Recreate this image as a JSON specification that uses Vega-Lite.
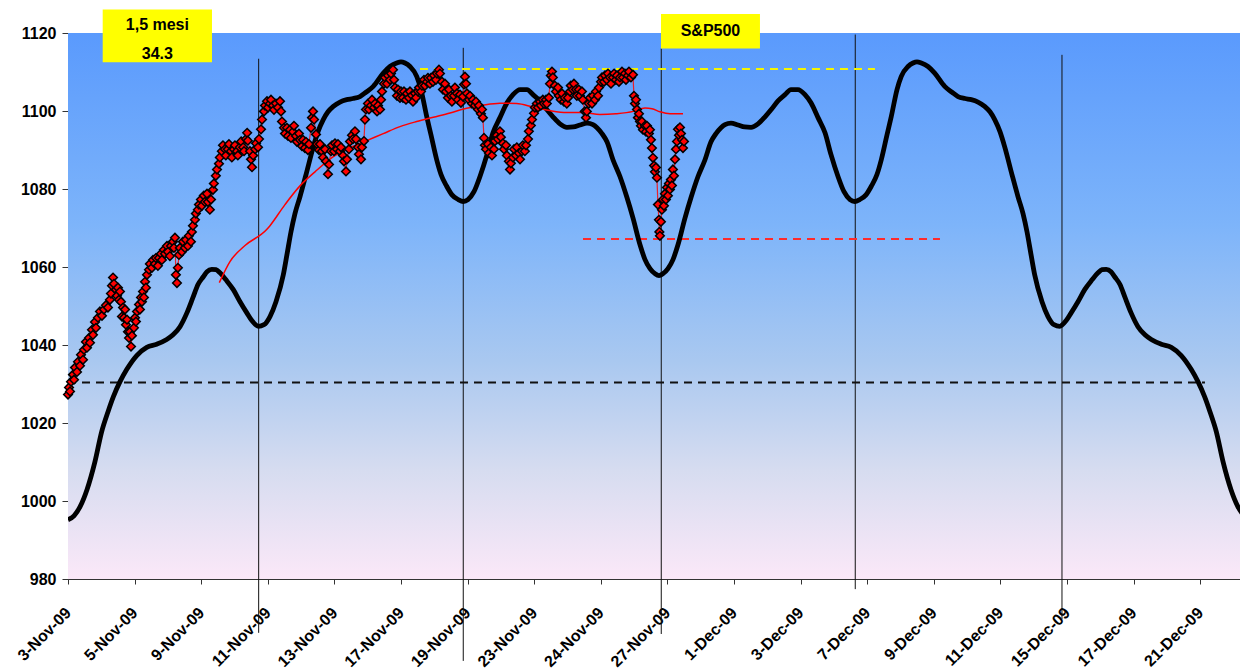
{
"$schema":"https://vega.github.io/schema/vega-lite/v6.json",
"width":1172,"height":546,
"autosize":"none",
"padding":{"left":68,"top":33,"right":0,"bottom":92},
"background":"#ffffff",
"config":{"view":{"stroke":"#a6a6a6","strokeWidth":1},
 "axis":{"labelFont":"Liberation Sans","labelFontWeight":"bold","labelFontSize":16,"labelColor":"#000000","domainColor":"#333333","tickColor":"#333333","grid":false,"title":null}},
"datasets":{
"cyc":[{"t":0,"v":995.2},{"t":0.09,"v":996.2},{"t":0.18,"v":998.5},{"t":0.285,"v":1002.9},{"t":0.405,"v":1010.1},{"t":0.506,"v":1017.8},{"t":0.601,"v":1022.9},{"t":0.68,"v":1026.7},{"t":0.781,"v":1030.6},{"t":0.881,"v":1033.7},{"t":1.032,"v":1037.3},{"t":1.182,"v":1039.4},{"t":1.332,"v":1040.2},{"t":1.482,"v":1041.4},{"t":1.577,"v":1042.6},{"t":1.682,"v":1044.7},{"t":1.787,"v":1048.3},{"t":1.881,"v":1052.4},{"t":1.952,"v":1055.5},{"t":2.032,"v":1057.5},{"t":2.087,"v":1058.8},{"t":2.158,"v":1059.4},{"t":2.222,"v":1059.3},{"t":2.282,"v":1058.5},{"t":2.372,"v":1056.7},{"t":2.482,"v":1054.2},{"t":2.583,"v":1051.1},{"t":2.683,"v":1048.3},{"t":2.763,"v":1046.2},{"t":2.857,"v":1044.8},{"t":2.943,"v":1045.2},{"t":3.033,"v":1047.3},{"t":3.123,"v":1051.1},{"t":3.233,"v":1058.0},{"t":3.288,"v":1063.2},{"t":3.348,"v":1069.0},{"t":3.408,"v":1073.7},{"t":3.483,"v":1078.0},{"t":3.574,"v":1083.7},{"t":3.683,"v":1090.8},{"t":3.754,"v":1094.7},{"t":3.833,"v":1097.8},{"t":3.904,"v":1099.8},{"t":3.984,"v":1101.2},{"t":4.084,"v":1102.3},{"t":4.185,"v":1102.9},{"t":4.279,"v":1103.2},{"t":4.384,"v":1103.7},{"t":4.474,"v":1104.8},{"t":4.584,"v":1106.3},{"t":4.734,"v":1109.7},{"t":4.835,"v":1111.4},{"t":4.935,"v":1112.3},{"t":5.0,"v":1112.6},{"t":5.06,"v":1112.3},{"t":5.135,"v":1111.4},{"t":5.236,"v":1108.9},{"t":5.3,"v":1105.5},{"t":5.386,"v":1098.6},{"t":5.45,"v":1093.9},{"t":5.536,"v":1087.5},{"t":5.601,"v":1083.7},{"t":5.686,"v":1080.7},{"t":5.766,"v":1078.5},{"t":5.86,"v":1077.3},{"t":5.935,"v":1076.8},{"t":6.006,"v":1077.3},{"t":6.096,"v":1079.3},{"t":6.186,"v":1083.2},{"t":6.291,"v":1088.8},{"t":6.381,"v":1094.4},{"t":6.486,"v":1098.3},{"t":6.592,"v":1102.1},{"t":6.682,"v":1104.2},{"t":6.787,"v":1105.5},{"t":6.892,"v":1105.5},{"t":6.982,"v":1104.2},{"t":7.087,"v":1102.6},{"t":7.192,"v":1100.3},{"t":7.282,"v":1098.5},{"t":7.387,"v":1096.7},{"t":7.492,"v":1095.8},{"t":7.587,"v":1095.9},{"t":7.688,"v":1096.4},{"t":7.793,"v":1096.9},{"t":7.883,"v":1096.5},{"t":7.943,"v":1095.7},{"t":8.018,"v":1094.2},{"t":8.093,"v":1092.1},{"t":8.183,"v":1087.5},{"t":8.288,"v":1083.2},{"t":8.393,"v":1077.8},{"t":8.483,"v":1072.6},{"t":8.589,"v":1065.7},{"t":8.664,"v":1061.9},{"t":8.739,"v":1059.6},{"t":8.814,"v":1058.3},{"t":8.874,"v":1057.8},
{"t":8.934,"v":1058.3},{"t":9.009,"v":1059.6},{"t":9.084,"v":1061.9},{"t":9.159,"v":1065.7},{"t":9.265,"v":1072.6},{"t":9.355,"v":1077.8},{"t":9.46,"v":1083.2},{"t":9.565,"v":1087.5},{"t":9.655,"v":1092.1},{"t":9.73,"v":1094.2},{"t":9.805,"v":1095.7},{"t":9.865,"v":1096.5},{"t":9.955,"v":1096.9},{"t":10.06,"v":1096.4},{"t":10.161,"v":1095.9},{"t":10.256,"v":1095.8},{"t":10.361,"v":1096.7},{"t":10.466,"v":1098.5},{"t":10.556,"v":1100.3},{"t":10.661,"v":1102.6},{"t":10.766,"v":1104.2},{"t":10.856,"v":1105.5},{"t":10.961,"v":1105.5},{"t":11.066,"v":1104.2},{"t":11.156,"v":1102.1},{"t":11.262,"v":1098.3},{"t":11.367,"v":1094.4},{"t":11.457,"v":1088.8},{"t":11.562,"v":1083.2},{"t":11.652,"v":1079.3},{"t":11.742,"v":1077.3},{"t":11.813,"v":1076.8},{"t":11.888,"v":1077.3},{"t":11.982,"v":1078.5},{"t":12.062,"v":1080.7},{"t":12.147,"v":1083.7},{"t":12.212,"v":1087.5},{"t":12.298,"v":1093.9},{"t":12.362,"v":1098.6},{"t":12.448,"v":1105.5},{"t":12.512,"v":1108.9},{"t":12.613,"v":1111.4},{"t":12.688,"v":1112.3},{"t":12.748,"v":1112.6},{"t":12.813,"v":1112.3},{"t":12.913,"v":1111.4},{"t":13.014,"v":1109.7},{"t":13.164,"v":1106.3},{"t":13.274,"v":1104.8},{"t":13.364,"v":1103.7},{"t":13.469,"v":1103.2},{"t":13.563,"v":1102.9},{"t":13.664,"v":1102.3},{"t":13.764,"v":1101.2},{"t":13.844,"v":1099.8},{"t":13.915,"v":1097.8},{"t":13.994,"v":1094.7},{"t":14.065,"v":1090.8},{"t":14.174,"v":1083.7},{"t":14.265,"v":1078.0},{"t":14.34,"v":1073.7},{"t":14.4,"v":1069.0},{"t":14.46,"v":1063.2},{"t":14.515,"v":1058.0},{"t":14.625,"v":1051.1},{"t":14.715,"v":1047.3},{"t":14.805,"v":1045.2},{"t":14.891,"v":1044.8},{"t":14.985,"v":1046.2},{"t":15.065,"v":1048.3},{"t":15.165,"v":1051.1},{"t":15.266,"v":1054.2},{"t":15.376,"v":1056.7},{"t":15.466,"v":1058.5},{"t":15.526,"v":1059.3},{"t":15.59,"v":1059.4},{"t":15.661,"v":1058.8},{"t":15.716,"v":1057.5},{"t":15.796,"v":1055.5},{"t":15.867,"v":1052.4},{"t":15.961,"v":1048.3},{"t":16.066,"v":1044.7},{"t":16.171,"v":1042.6},{"t":16.266,"v":1041.4},{"t":16.416,"v":1040.2},{"t":16.566,"v":1039.4},{"t":16.716,"v":1037.3},{"t":16.867,"v":1033.7},{"t":16.967,"v":1030.6},{"t":17.068,"v":1026.7},{"t":17.147,"v":1022.9},{"t":17.242,"v":1017.8},{"t":17.343,"v":1010.1},{"t":17.463,"v":1002.9},{"t":17.568,"v":998.5},{"t":17.658,"v":996.2}],
"ma":[{"t":2.272,"v":1056.0},{"t":2.432,"v":1061.4},{"t":2.658,"v":1065.5},{"t":2.983,"v":1069.6},{"t":3.033,"v":1070.6},{"t":3.258,"v":1076.0},{"t":3.483,"v":1080.8},{"t":3.709,"v":1084.4},{"t":3.984,"v":1088.3},{"t":4.234,"v":1090.6},{"t":4.485,"v":1092.4},{"t":4.734,"v":1094.2},{"t":4.985,"v":1096.0},{"t":5.236,"v":1097.3},{"t":5.485,"v":1098.4},{"t":5.736,"v":1099.5},{"t":5.986,"v":1100.7},{"t":6.231,"v":1101.5},{"t":6.486,"v":1102.0},{"t":6.737,"v":1101.9},{"t":6.987,"v":1101.0},{"t":7.237,"v":1100.1},{"t":7.488,"v":1099.6},{"t":7.733,"v":1099.6},{"t":7.988,"v":1099.1},{"t":8.228,"v":1099.3},{"t":8.488,"v":1099.9},{"t":8.664,"v":1100.8},{"t":8.769,"v":1100.6},{"t":8.889,"v":1099.8},{"t":9.039,"v":1099.3},{"t":9.234,"v":1099.3}],
"sp":[{"t":0,"v":1027.3},{"t":0.015,"v":1029.1},{"t":0.03,"v":1028.1},{"t":0.045,"v":1030.6},{"t":0.075,"v":1032.4},{"t":0.09,"v":1031.1},{"t":0.105,"v":1034.2},{"t":0.135,"v":1033.1},{"t":0.15,"v":1035.7},{"t":0.18,"v":1034.7},{"t":0.195,"v":1037.5},{"t":0.225,"v":1036.2},{"t":0.24,"v":1038.8},{"t":0.27,"v":1040.8},{"t":0.285,"v":1039.3},{"t":0.315,"v":1041.8},{"t":0.33,"v":1040.6},{"t":0.36,"v":1043.9},{"t":0.375,"v":1042.6},{"t":0.405,"v":1045.9},{"t":0.42,"v":1044.4},{"t":0.45,"v":1047},{"t":0.48,"v":1048.6},{"t":0.51,"v":1047.5},{"t":0.54,"v":1049.1},{"t":0.57,"v":1050.2},{"t":0.6,"v":1049.6},{"t":0.63,"v":1051.6},{"t":0.645,"v":1053.2},{"t":0.66,"v":1055.2},{"t":0.676,"v":1057.3},{"t":0.69,"v":1055.7},{"t":0.72,"v":1054.2},{"t":0.735,"v":1052.6},{"t":0.75,"v":1054.7},{"t":0.766,"v":1051.6},{"t":0.78,"v":1053.7},{"t":0.795,"v":1051.1},{"t":0.81,"v":1047.3},{"t":0.826,"v":1049.6},{"t":0.84,"v":1047},{"t":0.856,"v":1049.1},{"t":0.87,"v":1045.2},{"t":0.886,"v":1046.5},{"t":0.9,"v":1043.4},{"t":0.916,"v":1041.8},{"t":0.93,"v":1043.4},{"t":0.946,"v":1039.6},{"t":0.96,"v":1042.4},{"t":0.99,"v":1044.4},{"t":1.006,"v":1047},{"t":1.02,"v":1046},{"t":1.036,"v":1048.6},{"t":1.066,"v":1050.4},{"t":1.08,"v":1049.1},{"t":1.096,"v":1052.2},{"t":1.11,"v":1051.1},{"t":1.126,"v":1053.7},{"t":1.14,"v":1052.2},{"t":1.156,"v":1056.2},{"t":1.17,"v":1054.7},{"t":1.186,"v":1058},{"t":1.216,"v":1059.3},{"t":1.23,"v":1060.8},{"t":1.26,"v":1059.8},{"t":1.276,"v":1061.8},{"t":1.306,"v":1060.8},{"t":1.32,"v":1062.3},{"t":1.35,"v":1060.3},{"t":1.366,"v":1062.3},{"t":1.396,"v":1063.4},{"t":1.41,"v":1061.8},{"t":1.44,"v":1064.4},{"t":1.456,"v":1063.4},{"t":1.486,"v":1065.4},{"t":1.5,"v":1063.9},{"t":1.53,"v":1062.8},{"t":1.546,"v":1065.4},{"t":1.576,"v":1066.5},{"t":1.59,"v":1064.9},{"t":1.606,"v":1067.5},{"t":1.62,"v":1058},{"t":1.636,"v":1055.9},{"t":1.65,"v":1059.8},{"t":1.666,"v":1063.1},{"t":1.68,"v":1064.9},{"t":1.71,"v":1063.9},{"t":1.726,"v":1066.5},{"t":1.756,"v":1064.9},{"t":1.77,"v":1067},{"t":1.8,"v":1065.4},{"t":1.816,"v":1068},{"t":1.846,"v":1066.5},{"t":1.86,"v":1069},{"t":1.876,"v":1070.6},{"t":1.906,"v":1072.1},{"t":1.92,"v":1073.7},{"t":1.95,"v":1074.7},{"t":1.966,"v":1076},{"t":1.996,"v":1077.3},{"t":2.01,"v":1075.7},{"t":2.04,"v":1078.3},{"t":2.055,"v":1076.7},{"t":2.087,"v":1078.8},{"t":2.1,"v":1076.7},{"t":2.13,"v":1074.7},{"t":2.147,"v":1077.3},{"t":2.177,"v":1079.8},{"t":2.19,"v":1081.4},{"t":2.22,"v":1083.4},{"t":2.237,"v":1085},{"t":2.267,"v":1086.5},{"t":2.28,"v":1088.1},{"t":2.31,"v":1089.7},{"t":2.327,"v":1091.2},{"t":2.357,"v":1090.2},{"t":2.37,"v":1088.6},{"t":2.4,"v":1090.2},{"t":2.417,"v":1091.5},{"t":2.447,"v":1089.7},{"t":2.46,"v":1088.1},{"t":2.49,"v":1090.2},{"t":2.507,"v":1091.2},{"t":2.537,"v":1089.7},{"t":2.55,"v":1088.6},{"t":2.58,"v":1090.7},{"t":2.6,"v":1092.2},{"t":2.63,"v":1090.7},{"t":2.643,"v":1089.7},{"t":2.673,"v":1092.8},{"t":2.69,"v":1094.4},{"t":2.7,"v":1092.4},{"t":2.733,"v":1089.7},{"t":2.748,"v":1087.6},{"t":2.763,"v":1085.6},{"t":2.78,"v":1088.6},{"t":2.81,"v":1090.2},{"t":2.823,"v":1091.7},{"t":2.853,"v":1090.7},{"t":2.868,"v":1092.8},{"t":2.898,"v":1095.3},{"t":2.913,"v":1097.8},{"t":2.943,"v":1099.9},{"t":2.958,"v":1101.4},{"t":2.988,"v":1102.5},{"t":3.003,"v":1100.9},{"t":3.033,"v":1101.9},{"t":3.048,"v":1102.9},{"t":3.078,"v":1101.4},{"t":3.093,"v":1100.3},{"t":3.123,"v":1101.9},{"t":3.153,"v":1100.9},{"t":3.183,"v":1102.5},{"t":3.198,"v":1099.9},{"t":3.213,"v":1097.3},{"t":3.243,"v":1095.7},{"t":3.258,"v":1094.2},{"t":3.288,"v":1095.7},{"t":3.303,"v":1093.6},{"t":3.333,"v":1095.2},{"t":3.348,"v":1093.1},{"t":3.378,"v":1094.7},{"t":3.393,"v":1096.2},{"t":3.423,"v":1093.6},{"t":3.438,"v":1092.1},{"t":3.468,"v":1094.2},{"t":3.483,"v":1092.6},{"t":3.513,"v":1091},{"t":3.528,"v":1092.6},{"t":3.558,"v":1090.5},{"t":3.573,"v":1092.1},{"t":3.603,"v":1090},{"t":3.618,"v":1091.5},{"t":3.649,"v":1095.7},{"t":3.664,"v":1098.3},{"t":3.679,"v":1099.9},{"t":3.694,"v":1097.8},{"t":3.724,"v":1094},{"t":3.739,"v":1091.5},{"t":3.769,"v":1090},{"t":3.784,"v":1091.5},{"t":3.814,"v":1089.7},{"t":3.829,"v":1088.1},{"t":3.859,"v":1090.2},{"t":3.874,"v":1087.1},{"t":3.904,"v":1083.8},{"t":3.919,"v":1086.3},{"t":3.949,"v":1089.7},{"t":3.964,"v":1091.2},{"t":3.994,"v":1089.7},{"t":4.009,"v":1091.7},{"t":4.039,"v":1090.2},{"t":4.054,"v":1091.5},{"t":4.084,"v":1089.7},{"t":4.099,"v":1090.7},{"t":4.129,"v":1088.6},{"t":4.144,"v":1087.1},{"t":4.174,"v":1084.5},{"t":4.189,"v":1087.6},{"t":4.219,"v":1090.2},{"t":4.234,"v":1092.2},{"t":4.264,"v":1093.8},{"t":4.279,"v":1092.8},{"t":4.309,"v":1094.8},{"t":4.324,"v":1092.8},{"t":4.354,"v":1090.7},{"t":4.369,"v":1088.9},{"t":4.399,"v":1087.6},{"t":4.414,"v":1090.7},{"t":4.444,"v":1092.3},{"t":4.459,"v":1097.8},{"t":4.474,"v":1100.4},{"t":4.504,"v":1101.9},{"t":4.519,"v":1100.4},{"t":4.549,"v":1101.4},{"t":4.565,"v":1102.9},{"t":4.595,"v":1100.9},{"t":4.61,"v":1101.9},{"t":4.64,"v":1099.9},{"t":4.655,"v":1101.4},{"t":4.685,"v":1100.4},{"t":4.7,"v":1102.9},{"t":4.715,"v":1105},{"t":4.745,"v":1107},{"t":4.76,"v":1108.6},{"t":4.79,"v":1107},{"t":4.805,"v":1109.1},{"t":4.835,"v":1108},{"t":4.85,"v":1109.6},{"t":4.88,"v":1110.6},{"t":4.895,"v":1108},{"t":4.91,"v":1106},{"t":4.94,"v":1103.9},{"t":4.955,"v":1105.5},{"t":4.985,"v":1103.4},{"t":5,"v":1105},{"t":5.03,"v":1103.4},{"t":5.045,"v":1105},{"t":5.075,"v":1102.9},{"t":5.09,"v":1104.5},{"t":5.12,"v":1103.4},{"t":5.135,"v":1105},{"t":5.165,"v":1104},{"t":5.18,"v":1102.4},{"t":5.21,"v":1104.5},{"t":5.225,"v":1103.4},{"t":5.255,"v":1105},{"t":5.27,"v":1106},{"t":5.3,"v":1105},{"t":5.315,"v":1106.5},{"t":5.345,"v":1108},{"t":5.36,"v":1106.5},{"t":5.39,"v":1107.5},{"t":5.405,"v":1108.5},{"t":5.435,"v":1107},{"t":5.45,"v":1108.5},{"t":5.48,"v":1107.5},{"t":5.495,"v":1109.1},{"t":5.525,"v":1108},{"t":5.54,"v":1109.6},{"t":5.57,"v":1110.6},{"t":5.585,"v":1109.6},{"t":5.615,"v":1107.5},{"t":5.63,"v":1105.5},{"t":5.66,"v":1107},{"t":5.675,"v":1105},{"t":5.705,"v":1103.4},{"t":5.72,"v":1105.5},{"t":5.75,"v":1103.9},{"t":5.765,"v":1102.4},{"t":5.795,"v":1103.9},{"t":5.81,"v":1106},{"t":5.84,"v":1104.5},{"t":5.855,"v":1102.9},{"t":5.886,"v":1104.2},{"t":5.9,"v":1102.1},{"t":5.93,"v":1103.7},{"t":5.946,"v":1106.8},{"t":5.96,"v":1108.8},{"t":5.976,"v":1107},{"t":5.99,"v":1104.5},{"t":6.02,"v":1102.9},{"t":6.036,"v":1103.9},{"t":6.066,"v":1101.9},{"t":6.08,"v":1102.9},{"t":6.11,"v":1101.4},{"t":6.126,"v":1102.4},{"t":6.156,"v":1100.4},{"t":6.17,"v":1101.4},{"t":6.2,"v":1099.3},{"t":6.216,"v":1100.4},{"t":6.23,"v":1098.3},{"t":6.246,"v":1093.1},{"t":6.26,"v":1091.2},{"t":6.276,"v":1090.2},{"t":6.306,"v":1091.5},{"t":6.32,"v":1089.2},{"t":6.35,"v":1090.7},{"t":6.366,"v":1088.6},{"t":6.396,"v":1090.2},{"t":6.41,"v":1092.3},{"t":6.44,"v":1093.8},{"t":6.456,"v":1092.8},{"t":6.486,"v":1094.8},{"t":6.5,"v":1093.3},{"t":6.53,"v":1091.7},{"t":6.546,"v":1090.2},{"t":6.576,"v":1091.2},{"t":6.59,"v":1088.6},{"t":6.62,"v":1087.1},{"t":6.637,"v":1085},{"t":6.65,"v":1086.6},{"t":6.68,"v":1088.1},{"t":6.697,"v":1090.2},{"t":6.727,"v":1088.6},{"t":6.74,"v":1090.7},{"t":6.77,"v":1089.2},{"t":6.787,"v":1087.6},{"t":6.817,"v":1089.7},{"t":6.83,"v":1091.2},{"t":6.86,"v":1089.7},{"t":6.877,"v":1091.2},{"t":6.907,"v":1092.8},{"t":6.92,"v":1094.8},{"t":6.95,"v":1096.3},{"t":6.967,"v":1097.8},{"t":6.997,"v":1099.4},{"t":7.01,"v":1100.9},{"t":7.04,"v":1101.9},{"t":7.057,"v":1100.9},{"t":7.087,"v":1102.4},{"t":7.1,"v":1101.4},{"t":7.13,"v":1102.9},{"t":7.147,"v":1101.9},{"t":7.177,"v":1102.9},{"t":7.19,"v":1101.9},{"t":7.22,"v":1103.4},{"t":7.237,"v":1107},{"t":7.25,"v":1109.1},{"t":7.267,"v":1110.1},{"t":7.28,"v":1108.6},{"t":7.31,"v":1106.5},{"t":7.327,"v":1105},{"t":7.357,"v":1106},{"t":7.37,"v":1103.9},{"t":7.4,"v":1102.9},{"t":7.417,"v":1104.5},{"t":7.447,"v":1102.4},{"t":7.46,"v":1103.4},{"t":7.49,"v":1101.9},{"t":7.507,"v":1103.4},{"t":7.537,"v":1105},{"t":7.55,"v":1106.5},{"t":7.58,"v":1105.5},{"t":7.597,"v":1107},{"t":7.627,"v":1105.5},{"t":7.64,"v":1103.9},{"t":7.67,"v":1105.5},{"t":7.687,"v":1103.9},{"t":7.717,"v":1105},{"t":7.73,"v":1102.9},{"t":7.76,"v":1099.9},{"t":7.778,"v":1098.3},{"t":7.79,"v":1099.9},{"t":7.82,"v":1101.9},{"t":7.838,"v":1103.4},{"t":7.868,"v":1101.9},{"t":7.883,"v":1103.9},{"t":7.913,"v":1102.9},{"t":7.928,"v":1105},{"t":7.958,"v":1103.9},{"t":7.973,"v":1106},{"t":8.003,"v":1107.5},{"t":8.018,"v":1108.6},{"t":8.048,"v":1107.5},{"t":8.063,"v":1109.1},{"t":8.093,"v":1108},{"t":8.108,"v":1109.6},{"t":8.138,"v":1108.6},{"t":8.153,"v":1107},{"t":8.183,"v":1108.6},{"t":8.2,"v":1109.6},{"t":8.228,"v":1108},{"t":8.243,"v":1109.1},{"t":8.273,"v":1107.5},{"t":8.288,"v":1108.6},{"t":8.318,"v":1110.1},{"t":8.333,"v":1108.6},{"t":8.363,"v":1109.6},{"t":8.378,"v":1108},{"t":8.408,"v":1109.1},{"t":8.423,"v":1110.1},{"t":8.453,"v":1108.6},{"t":8.483,"v":1109.3},{"t":8.498,"v":1103.9},{"t":8.513,"v":1101.9},{"t":8.528,"v":1102.9},{"t":8.543,"v":1100.4},{"t":8.558,"v":1098.3},{"t":8.573,"v":1099.3},{"t":8.588,"v":1097.3},{"t":8.603,"v":1096.2},{"t":8.618,"v":1097.3},{"t":8.633,"v":1095.2},{"t":8.663,"v":1096.2},{"t":8.678,"v":1094.7},{"t":8.693,"v":1096.2},{"t":8.723,"v":1094.2},{"t":8.738,"v":1095.2},{"t":8.753,"v":1092.6},{"t":8.768,"v":1090.5},{"t":8.783,"v":1088},{"t":8.8,"v":1086},{"t":8.813,"v":1084.4},{"t":8.828,"v":1085.5},{"t":8.843,"v":1082.9},{"t":8.858,"v":1076},{"t":8.873,"v":1072.1},{"t":8.88,"v":1069},{"t":8.888,"v":1068},{"t":8.903,"v":1071.6},{"t":8.918,"v":1074.7},{"t":8.933,"v":1077.3},{"t":8.948,"v":1075.7},{"t":8.963,"v":1078.8},{"t":8.978,"v":1077.3},{"t":8.993,"v":1080.4},{"t":9.008,"v":1078.3},{"t":9.023,"v":1081.4},{"t":9.038,"v":1079.9},{"t":9.053,"v":1082.4},{"t":9.068,"v":1080.9},{"t":9.083,"v":1085},{"t":9.098,"v":1083.4},{"t":9.114,"v":1087.6},{"t":9.129,"v":1090.2},{"t":9.144,"v":1092.2},{"t":9.159,"v":1095.3},{"t":9.174,"v":1093.8},{"t":9.189,"v":1095.8},{"t":9.204,"v":1094.2},{"t":9.219,"v":1092.6},{"t":9.234,"v":1090.5},{"t":9.249,"v":1092.2}],
"vlines":[{"t":2.863,"top":1113.4,"bot":966.2},{"t":5.935,"top":1116.2,"bot":959.0},{"t":8.908,"top":1116.0,"bot":965.9},{"t":11.821,"top":1119.6,"bot":977.4},{"t":14.925,"top":1114.4,"bot":969.7}],
"hdash":[{"name":"yellow","t1":5.285,"t2":12.117,"v":1110.8},{"name":"red","t1":7.733,"t2":13.093,"v":1067.2},{"name":"black","t1":0,"t2":17.072,"v":1030.4}],
"boxes":[{"t1":0.521,"t2":2.162,"v1":1112.5,"v2":1126.0},{"t1":8.904,"t2":10.39,"v1":1116.0,"v2":1124.9}],
"labels":[{"t":1.342,"v":1122.1,"label":"1,5 mesi"},{"t":1.342,"v":1114.7,"label":"34.3"},{"t":9.647,"v":1120.5,"label":"S&P500"}]
},
"layer":[
{"data":{"values":[{}]},
 "mark":{"type":"rect","fill":{"gradient":"linear","x1":0,"y1":0,"x2":0,"y2":1,"stops":[{"offset":0,"color":"#5a9afd"},{"offset":0.35,"color":"#7db4fa"},{"offset":0.6,"color":"#a9c8f0"},{"offset":0.8,"color":"#d6dcf0"},{"offset":1,"color":"#fbe8f8"}]}},
 "encoding":{
  "x":{"datum":0,"type":"quantitative","scale":{"domain":[0,17.598],"nice":false,"zero":false},
   "axis":{"values":[0,1,2,3,4,5,6,7,8,9,10,11,12,13,14,15,16,17],"labelAngle":-45,"labelAlign":"right","labelBaseline":"middle","labelPadding":26,"tickSize":5,"title":null,
   "labelExpr":"['3-Nov-09','5-Nov-09','9-Nov-09','11-Nov-09','13-Nov-09','17-Nov-09','19-Nov-09','23-Nov-09','24-Nov-09','27-Nov-09','1-Dec-09','3-Dec-09','7-Dec-09','9-Dec-09','11-Dec-09','15-Dec-09','17-Dec-09','21-Dec-09'][datum.value]"}},
  "x2":{"datum":17.598},
  "y":{"datum":980,"type":"quantitative","scale":{"domain":[980,1120],"nice":false,"zero":false},
   "axis":{"values":[980,1000,1020,1040,1060,1080,1100,1120],"format":"d","tickSize":6,"labelPadding":6,"title":null}},
  "y2":{"datum":1120}}},
{"data":{"name":"vlines"},"mark":{"type":"rule","color":"#111111","strokeWidth":1,"clip":false},
 "encoding":{"x":{"field":"t","type":"quantitative"},"y":{"field":"top","type":"quantitative"},"y2":{"field":"bot"}}},
{"data":{"name":"hdash"},"mark":{"type":"rule","strokeWidth":2,"strokeDash":[8,6]},
 "encoding":{"x":{"field":"t1","type":"quantitative"},"x2":{"field":"t2"},"y":{"field":"v","type":"quantitative"},
  "color":{"field":"name","type":"nominal","scale":{"domain":["yellow","red","black"],"range":["#f5f500","#ff2a2a","#111111"]},"legend":null}}},
{"data":{"name":"cyc"},"mark":{"type":"line","color":"#000000","strokeWidth":4.8,"interpolate":"monotone","clip":true},
 "encoding":{"x":{"field":"t","type":"quantitative"},"y":{"field":"v","type":"quantitative"}}},
{"data":{"name":"ma"},"mark":{"type":"line","color":"#ff0000","strokeWidth":1.5,"interpolate":"monotone"},
 "encoding":{"x":{"field":"t","type":"quantitative"},"y":{"field":"v","type":"quantitative"}}},
{"data":{"name":"sp"},"mark":{"type":"line","color":"#e8202a","strokeWidth":1.2},
 "encoding":{"x":{"field":"t","type":"quantitative"},"y":{"field":"v","type":"quantitative"}}},
{"data":{"name":"sp"},"mark":{"type":"point","shape":"diamond","filled":true,"fill":"#ff0000","stroke":"#000000","strokeWidth":1.5,"size":75,"opacity":1},
 "encoding":{"x":{"field":"t","type":"quantitative"},"y":{"field":"v","type":"quantitative"}}},
{"data":{"name":"boxes"},"mark":{"type":"rect","fill":"#ffff00","clip":false},
 "encoding":{"x":{"field":"t1","type":"quantitative"},"x2":{"field":"t2"},"y":{"field":"v1","type":"quantitative"},"y2":{"field":"v2"}}},
{"data":{"name":"labels"},"mark":{"type":"text","font":"Liberation Sans","fontWeight":"bold","fontSize":16,"color":"#000000","align":"center","baseline":"middle","clip":false},
 "encoding":{"x":{"field":"t","type":"quantitative"},"y":{"field":"v","type":"quantitative"},"text":{"field":"label"}}}
]
}
